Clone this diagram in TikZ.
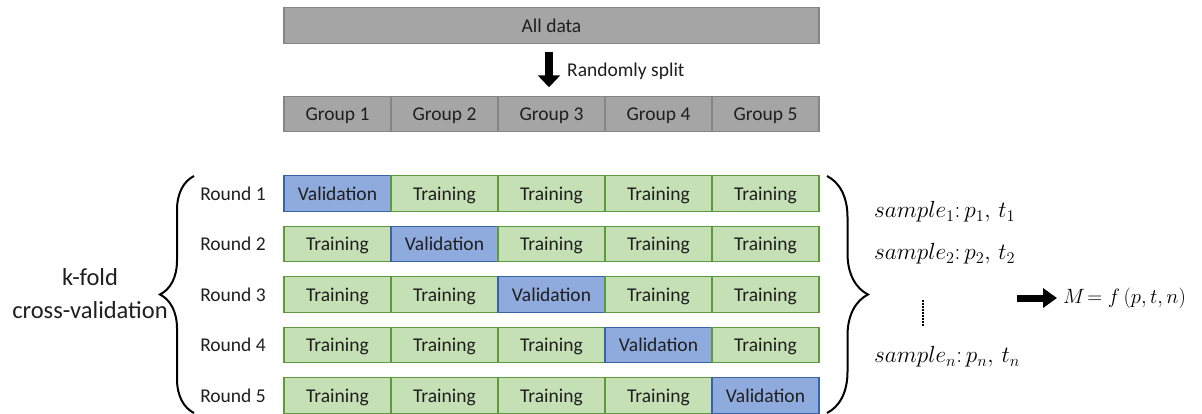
\documentclass[tikz,border=0pt]{standalone}
\usepackage{fix-cm}
\usepackage{fontspec}
\setmainfont{Carlito}
\usetikzlibrary{arrows.meta,decorations.pathreplacing,calc}
\definecolor{grayfill}{HTML}{A5A5A5}
\definecolor{grayline}{HTML}{858585}
\definecolor{greenfill}{HTML}{C5E0B4}
\definecolor{greenline}{HTML}{5E9A3C}
\definecolor{bluefill}{HTML}{8FAADC}
\definecolor{blueline}{HTML}{3A62A8}
\begin{document}
\begin{tikzpicture}[x=1pt,y=-1pt,
  cell/.style={minimum width=107pt,minimum height=35.5pt,inner sep=0pt,outer sep=0pt,line width=1.3pt,font=\fontsize{19.5}{23}\selectfont,text=black!88,text height=15pt,text depth=2pt},
  graycell/.style={cell,fill=grayfill,draw=grayline},
  train/.style={cell,fill=greenfill,draw=greenline},
  valid/.style={cell,fill=bluefill,draw=blueline},
  lbl/.style={inner sep=0pt,font=\fontsize{19.5}{23}\selectfont,text=black!88,text height=15pt,text depth=2pt},
  mathlbl/.style={inner sep=0pt,anchor=west,font=\fontsize{23.3}{28}\selectfont},
  bracestyle/.style={line width=2pt,decorate}]
\useasboundingbox (0,0) rectangle (1202,413);
% all data
\node[graycell,minimum width=535pt] (all) at (551.5,25.5) {All data};
% groups
\foreach \i/\x in {1/337.5,2/444.5,3/551.5,4/658.5,5/765.5}{
  \node[graycell] (g\i) at (\x,114) {Group \i};
}
\draw[line width=8pt,-{Triangle[length=12pt,width=22pt]}] ($(all.south)+(-2.5,9)$) coordinate (a0) -- ($(g3.north)+(-2.5,-9)$) coordinate (a1);
\node[lbl,anchor=west] (rs) at (567,70) {Randomly split};
% rounds
\foreach \r/\y in {1/193.5,2/244,3/294.5,4/345,5/395.5}{
  \node[lbl] (r\r) at (233,\y) {Round \r};
  \foreach \c/\x in {1/337.5,2/444.5,3/551.5,4/658.5,5/765.5}{
    \ifnum\c=\r
      \node[valid] (c\r\c) at (\x,\y) {Validation};
    \else
      \node[train] (c\r\c) at (\x,\y) {Training};
    \fi
  }
}
% braces
\draw[bracestyle,decoration={brace,amplitude=34pt,aspect=0.5}] (194,413) coordinate (lb0) -- (194,176) coordinate (lb1);
\draw[bracestyle,decoration={brace,amplitude=41pt,aspect=0.5}] (827,176) coordinate (rb0) -- (827,413) coordinate (rb1);
\node[align=center,inner sep=0pt,font=\fontsize{24.5}{33}\selectfont,text=black!88] (kf) at (90,293.5) {k-fold\\cross-validation};
% samples
\node[mathlbl] (s1) at (874,212) {$sample_1\colon p_1,\,t_1$};
\node[mathlbl] (s2) at (874,254) {$sample_2\colon p_2,\,t_2$};
\node[mathlbl] (sn) at (874,357) {$sample_n\colon p_n,\,t_n$};
\coordinate (d0) at (923,300);
\coordinate (d1) at (923,327);
\draw[line width=1.5pt,dash pattern=on 1.5pt off 1.5pt] (d0) -- (d1);
\node[mathlbl,font=\fontsize{20.7}{25}\selectfont] (M) at (1063,298) {$M\!=f\,(p,t,n)$};
\coordinate (ar0) at (1017,298);
\draw[line width=7pt,-{Triangle[length=14pt,width=19pt]}] (ar0) -- ($(M.west)+(-6,0)$);
\end{tikzpicture}
\end{document}
